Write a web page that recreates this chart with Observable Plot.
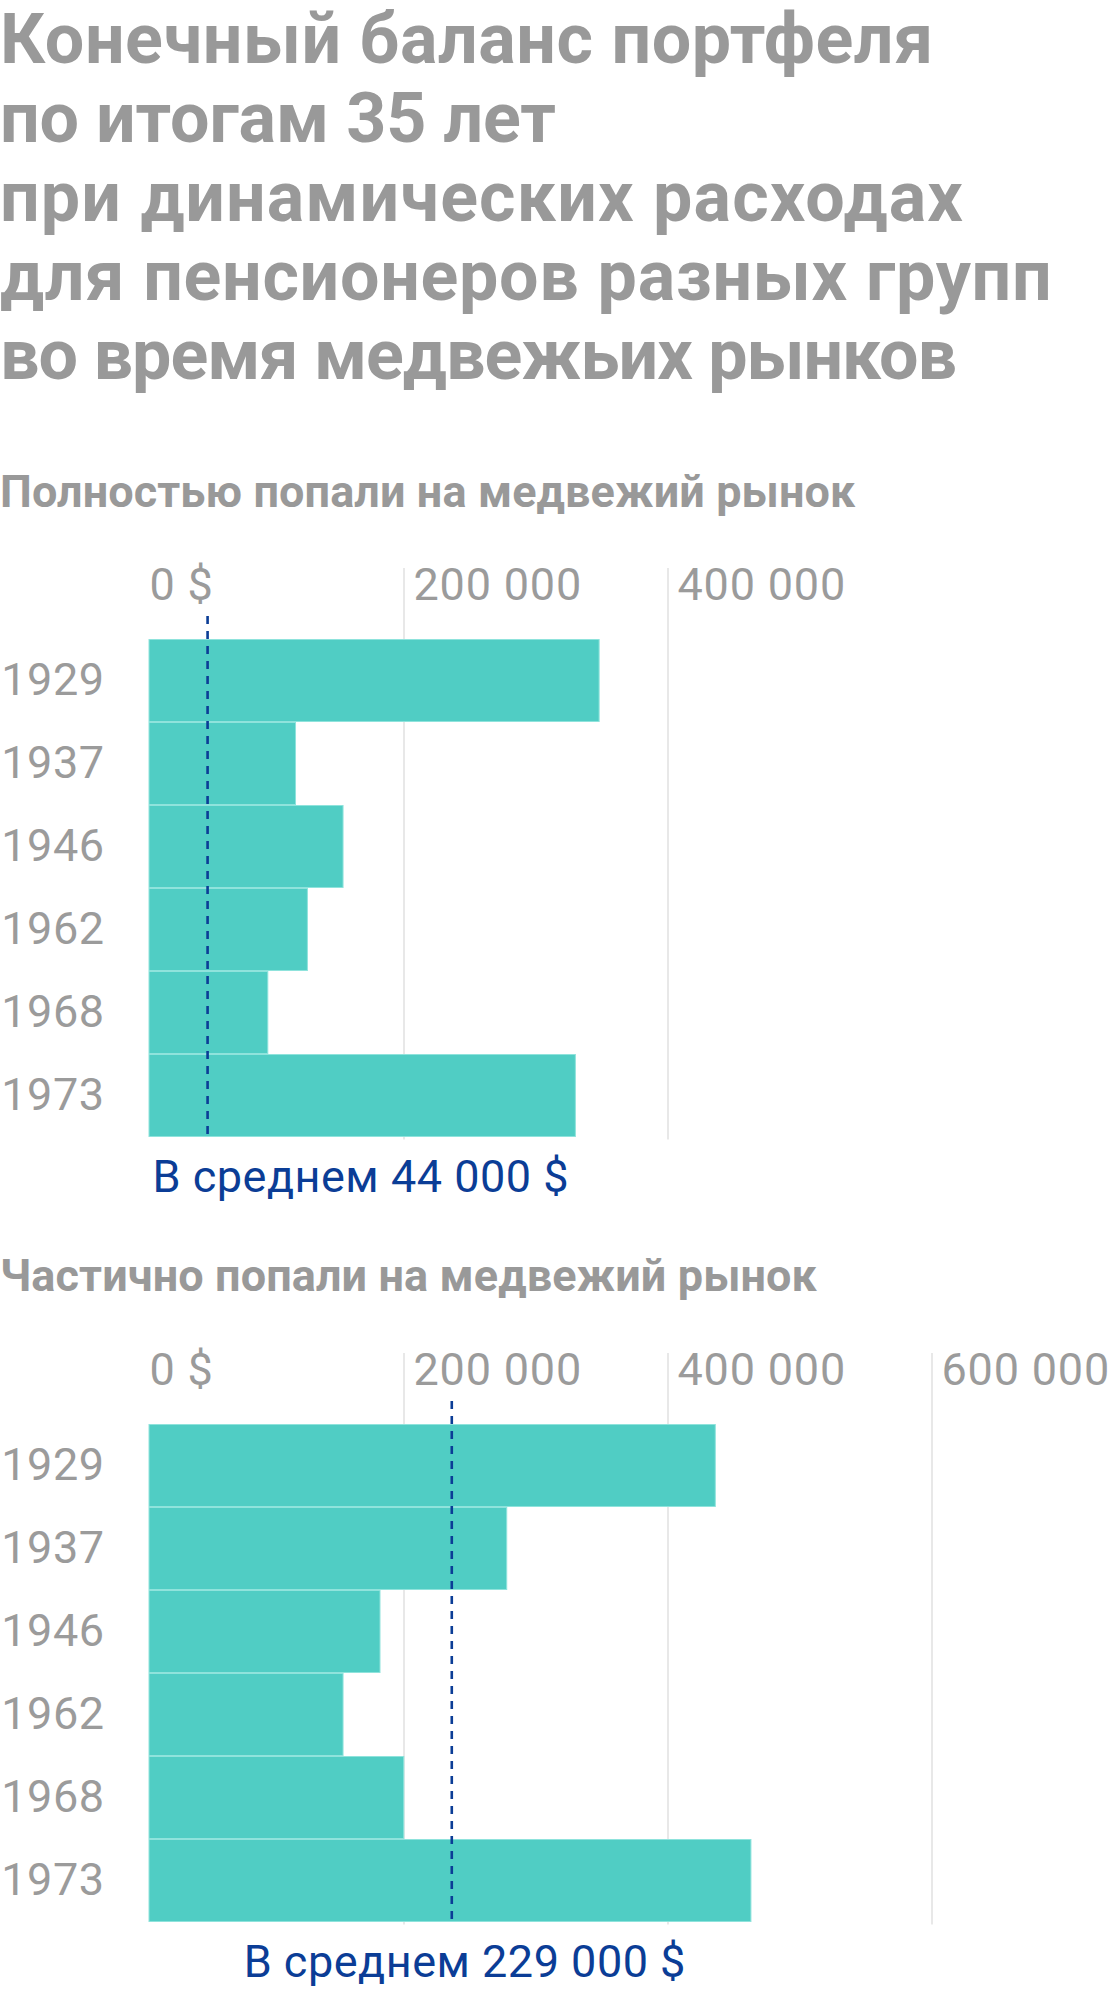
<!DOCTYPE html>
<html><head><meta charset="utf-8">
<script src="https://cdn.jsdelivr.net/npm/d3@7"></script>
<script src="https://cdn.jsdelivr.net/npm/@observablehq/plot@0.6"></script>
<style>
body{margin:0;background:#fff;width:1120px;height:1992px;position:relative;overflow:hidden;font-family:Roboto,sans-serif;}
.title{position:absolute;left:0;top:0px;font-weight:700;font-size:70px;line-height:79px;color:#999;white-space:nowrap;}
.sub{position:absolute;left:0;font-weight:700;font-size:45px;line-height:52px;letter-spacing:0.1px;color:#999;white-space:nowrap;}
.chart{position:absolute;left:0;}
</style></head><body>
<div class="title"><span style="letter-spacing:0.55px">Конечный баланс портфеля</span><br><span style="letter-spacing:-0.15px">по итогам 35 лет</span><br><span style="letter-spacing:1.1px">при динамических расходах</span><br><span style="letter-spacing:0.7px">для пенсионеров разных групп</span><br><span style="letter-spacing:-1px">во время медвежьих рынков</span></div>
<div class="sub" style="top:466px">Полностью попали на медвежий рынок</div>
<div class="chart" id="c1" style="top:540px"></div>
<div class="sub" style="top:1250px">Частично попали на медвежий рынок</div>
<div class="chart" id="c2" style="top:1325px"></div>
<script>
const years = ["1929", "1937", "1946", "1962", "1968", "1973"];
const fullValues = [341000, 111000, 147000, 120000, 90000, 323000];
const partialValues = [429000, 271000, 175000, 147000, 193000, 456000];
const fullTicks = [0, 200000, 400000];
const partialTicks = [0, 200000, 400000, 600000];
const fullMean = 44000;
const partialMean = 229000;
const fullMeanLabel = "В среднем 44 000 $";
const partialMeanLabel = "В среднем 229 000 $";

function fmt(v) { return v === 0 ? "0 $" : d3.format(",")(v).replace(/,/g, " "); }

function chart(values, ticks, mean, label, anchor) {
  const data = years.map((y, i) => ({year: y, value: values[i]}));
  const meanData = [{x: anchor === "start" ? 0 : mean, text: label}];
  return Plot.plot({
    width: 1120, height: 660,
    marginLeft: 149, marginRight: 0, marginTop: 28, marginBottom: 60.5,
    style: {fontFamily: "Roboto, sans-serif", background: "transparent", overflow: "visible"},
    x: {domain: [0, 735600], axis: null},
    y: {domain: years, range: [96.3, 599.5], padding: 0, label: null},
    marks: [
      Plot.ruleX(ticks.filter(t => t > 0), {stroke: "#dcdcdc", strokeWidth: 1.3, dx: -9.5}),
      Plot.barX(data, {x: "value", y: "year", fill: "#50cdc4", stroke: "#8fe3dc", strokeWidth: 1, insetTop: 0.5, insetBottom: 0.5}),
      Plot.ruleX([mean], {stroke: "#0b3d96", strokeWidth: 2.6, strokeDasharray: "8,7", insetTop: 48}),
      Plot.text(ticks, {x: d => d, text: fmt, frameAnchor: "top", lineAnchor: "top", textAnchor: "start", fontSize: 45, fill: "#9b9b9b"}),
      Plot.axisY({tickSize: 0, tickPadding: 45, fontSize: 45, color: "#9b9b9b", label: null}),
      Plot.text(meanData, {x: "x", text: "text", frameAnchor: "bottom", lineAnchor: "bottom", textAnchor: anchor, dx: anchor === "start" ? 3 : 13, dy: 52, fontSize: 45, fill: "#0b3d96"})
    ]
  });
}

for (const [id, v, t, m, l, a] of [["c1", fullValues, fullTicks, fullMean, fullMeanLabel, "start"], ["c2", partialValues, partialTicks, partialMean, partialMeanLabel, "middle"]]) {
  const svg = chart(v, t, m, l, a);
  const tickTexts = new Set(t.map(fmt));
  svg.querySelectorAll("text").forEach(el => {
    if (el.textContent.startsWith("В среднем")) el.style.letterSpacing = "0.5px";
    else if (tickTexts.has(el.textContent)) el.style.letterSpacing = "0.8px";
    else el.style.letterSpacing = "0.5px";
  });
  document.getElementById(id).append(svg);
}
</script>
</body></html>
